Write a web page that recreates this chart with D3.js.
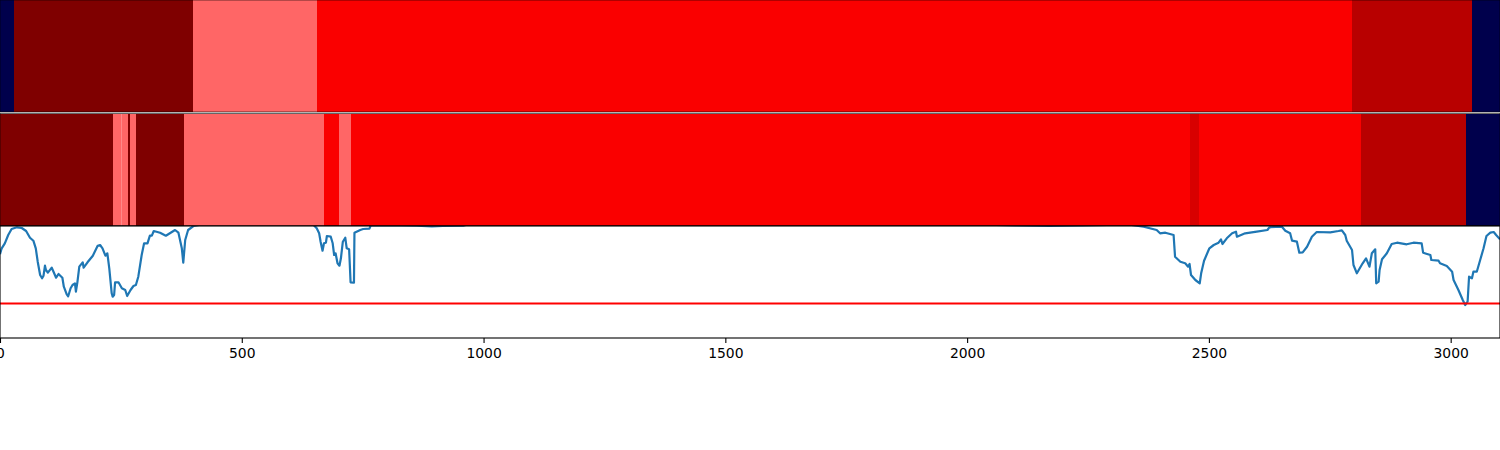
<!DOCTYPE html>
<html>
<head>
<meta charset="utf-8">
<script src="https://cdn.jsdelivr.net/npm/d3@7"></script>
<style>
	body { margin: 0; background: #fff; }
	svg { display: block; }
	text { font-family: "DejaVu Sans"; }
</style>
</head>
<body>
<div class="forshow"></div>
<script>
// segment edges along x and the class of each segment
var topEdges = [0, 29, 399, 656, 2796, 3044, 3102];
var topClasses = ["navy", "maroon", "light", "red", "dark", "navy"];
var midEdges = [0, 234, 250, 252, 265, 269, 281, 381, 670, 701, 726, 2461, 2480, 2815, 3032, 3102];
var midClasses = ["maroon", "light", "pale", "light", "maroon", "light", "maroon", "light", "red", "light", "red", "deep", "red", "dark", "navy"];

var classNames = ["navy", "maroon", "dark", "deep", "red", "light", "pale"];
var classColors = ["#00004c", "#7f0000", "#b80000", "#d80000", "#fa0000", "#ff6666", "#ff8888"];

// blue curve, y is clipped at the top of the panel
var curveX = [0, 3.5, 10, 17, 24, 35, 45, 54, 62, 69, 74, 78, 83, 87, 90, 93, 95, 99, 107, 110, 116, 121, 129, 132, 138, 141, 146, 150, 155, 157, 160, 164, 171, 173, 181, 192, 202, 207, 212, 218, 222, 226, 231, 233, 236, 238, 245, 252, 259, 263, 270, 276, 281, 286, 293, 298, 305, 310, 314, 318, 331, 343, 362, 369, 376, 379, 383, 389, 400, 414, 530, 648, 655, 660, 663, 667, 670, 674, 676, 684, 688, 691, 694, 698, 702, 705, 709, 714, 717, 722, 725, 732, 733, 745, 751, 764, 767, 862, 893, 916, 958, 965, 1500, 2060, 2100, 2170, 2240, 2290, 2337, 2365, 2392, 2399, 2410, 2427, 2430, 2441, 2451, 2457, 2460, 2463, 2472, 2481, 2484, 2490, 2501, 2510, 2520, 2525, 2528, 2537, 2548, 2556, 2558, 2575, 2599, 2621, 2625, 2651, 2658, 2668, 2672, 2682, 2687, 2694, 2703, 2713, 2723, 2751, 2768, 2775, 2782, 2785, 2796, 2799, 2806, 2818, 2825, 2832, 2837, 2844, 2846, 2851, 2853, 2858, 2868, 2878, 2889, 2909, 2923, 2940, 2943, 2958, 2960, 2975, 2978, 2992, 3003, 3006, 3016, 3025, 3030, 3035, 3038, 3044, 3047, 3054, 3061, 3068, 3074, 3082, 3089, 3094, 3102];
var curveY = [83.7, 89.7, 94.7, 103, 109, 110.7, 110, 107, 100.3, 97.3, 89.7, 76.3, 63, 59.7, 62.3, 72.3, 68, 65.3, 70.3, 67, 60.3, 64, 60.3, 51.3, 43.7, 41.7, 49.7, 53, 54.7, 46.3, 55.7, 71.3, 75.7, 70.3, 75.7, 82.3, 92.3, 93, 89.7, 82.3, 84.7, 69.7, 44.7, 41.3, 43, 55.7, 55.7, 49.7, 48, 42, 48, 52, 53, 61.3, 83, 94.7, 94.7, 102.3, 102.3, 107, 105.3, 102.3, 108, 105.3, 89.7, 75.3, 98, 108, 112, 113.3, 118, 113.3, 109.7, 104.7, 96.3, 87.3, 94.7, 95.3, 102, 101.3, 94.7, 83, 84.7, 74.7, 72.3, 79.7, 96.3, 100.3, 89.7, 88.7, 55.7, 55.3, 105.3, 108, 109, 109.3, 113, 112.3, 111.6, 112, 112.3, 113.3, 118, 113, 112.6, 112, 112.6, 113, 113.3, 111.3, 108, 104.7, 105.3, 103, 81.3, 76.3, 74.7, 71.3, 74, 63, 58, 54.7, 64.7, 77.3, 89.7, 93, 95.3, 98.7, 94, 99.7, 104.7, 106.3, 101.3, 104.7, 106.3, 108, 110.7, 111.3, 107.3, 104.7, 97.3, 96.3, 85.3, 85.7, 91.3, 101.3, 106, 105.7, 107, 107.7, 103, 97.3, 88, 73, 64.7, 74.7, 79.7, 71.3, 84.7, 88.7, 54.7, 56.3, 68, 78.7, 84.7, 94, 95.3, 93.7, 95.3, 94.7, 85.3, 83, 78, 77.3, 74.7, 72, 66.3, 58, 48, 38, 33, 36.3, 61.3, 59.7, 66.3, 66.3, 78, 89.7, 102, 105.3, 106, 103, 98.7];
var threshold = 34.5;

var xTicks = [0, 500, 1000, 1500, 2000, 2500, 3000];

var width = 1500, height = 450;

var x = d3.scaleLinear().domain([0, 3102]).range([0, width]);
var y = d3.scaleLinear().domain([0, 112]).range([338, 226]);
var color = d3.scaleOrdinal().domain(classNames).range(classColors);

var svg = d3.select(".forshow").append("svg")
	.attr("width", width)
	.attr("height", height);

// one strip of segments
function drawStrip(edges, classes, top, bottom) {
	svg.append("g").selectAll("rect")
		.data(classes)
		.enter()
		.append("rect")
		.attr("x", function(d, i) { return x(edges[i]); })
		.attr("width", function(d, i) { return x(edges[i + 1]) - x(edges[i]); })
		.attr("y", top)
		.attr("height", bottom - top)
		.attr("fill", function(d) { return color(d); })
		.attr("shape-rendering", "crispEdges");
	svg.append("rect")
		.attr("x", 0)
		.attr("y", top)
		.attr("width", width)
		.attr("height", bottom - top)
		.attr("fill", "none")
		.attr("stroke", "#000")
		.attr("stroke-width", 0.6);
}

drawStrip(topEdges, topClasses, 0, 112);
drawStrip(midEdges, midClasses, 113.5, 225.5);

svg.append("clipPath")
	.attr("id", "panel")
	.append("rect")
	.attr("x", 0)
	.attr("y", 226)
	.attr("width", width)
	.attr("height", 112);

var line = d3.line()
	.x(function(d) { return x(d); })
	.y(function(d, i) { return y(curveY[i]); });

svg.append("path")
	.attr("d", line(curveX))
	.attr("clip-path", "url(#panel)")
	.attr("fill", "none")
	.attr("stroke", "#1f77b4")
	.attr("stroke-width", 2.2)
	.attr("stroke-linejoin", "round");

svg.append("line")
	.attr("x1", 0)
	.attr("x2", width)
	.attr("y1", y(threshold))
	.attr("y2", y(threshold))
	.attr("stroke", "red")
	.attr("stroke-width", 2.08);

// frame of the lower panel
svg.append("rect")
	.attr("x", 0)
	.attr("y", 226)
	.attr("width", width)
	.attr("height", 112)
	.attr("fill", "none")
	.attr("stroke", "#000")
	.attr("stroke-width", 1.1);

var axis = d3.axisBottom(x)
	.tickValues(xTicks)
	.tickFormat(d3.format("d"))
	.tickSize(4.9)
	.tickPadding(4.9);

var axisGroup = svg.append("g")
	.attr("transform", "translate(0,338)")
	.call(axis);
axisGroup.select(".domain").remove();
axisGroup.selectAll(".tick line").attr("stroke-width", 1.1);
axisGroup.selectAll("text")
	.style("font-family", "DejaVu Sans")
	.style("font-size", "13.9px")
	.attr("fill", "#000");
</script>
</body>
</html>
